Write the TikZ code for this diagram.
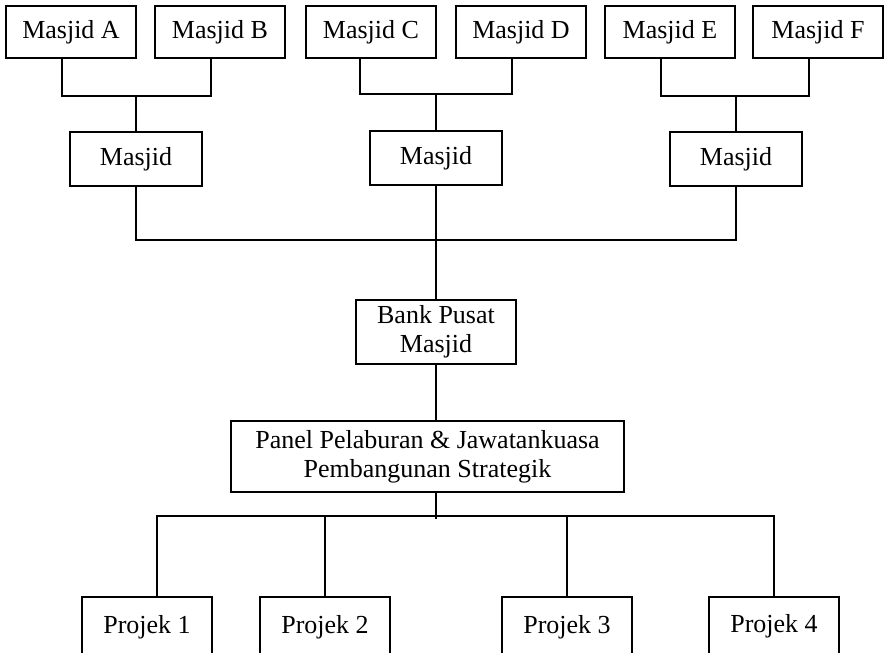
\documentclass[tikz,border=0pt]{standalone}
\usepackage{fontspec}
\setmainfont{Liberation Serif}
\usepackage{tikz}

\begin{document}
\begin{tikzpicture}[x = 0.5pt, y = -0.5pt,
            box/.style = {draw, line width = 1pt, inner sep = 0pt, align = center,
                          font = \fontsize{13}{14.5}\selectfont},
            topbox/.style = {box, minimum width = 65pt, minimum height = 26pt},
            midbox/.style = {box, minimum width = 66pt, minimum height = 27pt},
            projbox/.style = {box, minimum width = 65pt, minimum height = 30pt},
            every path/.style = {line width = 1pt}]
            \useasboundingbox (0,0) rectangle (885,653);

            % masjid kecil
            \node[topbox] (mA) at (71,32) {Masjid A};
            \node[topbox] (mB) at (220,32) {Masjid B};
            \node[topbox] (mC) at (371,32) {Masjid C};
            \node[topbox] (mD) at (521,32) {Masjid D};
            \node[topbox] (mE) at (670,32) {Masjid E};
            \node[topbox] (mF) at (818,32) {Masjid F};

            % masjid induk
            \node[midbox] (mX) at (136,159) {Masjid};
            \node[midbox] (mY) at (436,158) {Masjid};
            \node[midbox] (mZ) at (736,159) {Masjid};

            \node[box, minimum width = 80pt, minimum height = 32pt] (bank) at (436,332) {Bank Pusat\\Masjid};
            \node[box, minimum width = 196.5pt, minimum height = 35.5pt] (panel) at (427.5,456.5)
                {Panel Pelaburan \& Jawatankuasa\\Pembangunan Strategik};

            \node[projbox] (p1) at (147,627) {Projek 1};
            \node[projbox] (p2) at (325,627) {Projek 2};
            \node[projbox] (p3) at (567,627) {Projek 3};
            \node[projbox, text depth = 4pt] (p4) at (774,627) {Projek 4};

            % cabang atas
            \draw ([xshift=-4.5pt]mA.south) |- (mX.north |- 0,96) -| ([xshift=-4.5pt]mB.south);
            \draw (mX.north) -- (mX.north |- 0,96);
            \draw ([xshift=-5.5pt]mC.south) |- (mY.north |- 0,94) -| ([xshift=-4.5pt]mD.south);
            \draw (mY.north) -- (mY.north |- 0,94);
            \draw ([xshift=-4.5pt]mE.south) |- (mZ.north |- 0,96) -| ([xshift=-4.5pt]mF.south);
            \draw (mZ.north) -- (mZ.north |- 0,96);

            \draw (mX.south) |- (mZ.south |- 0,240) -- (mZ.south);
            \draw (mY.south) -- (bank.north);
            \draw (bank.south) -- (bank.south |- panel.north);

            % cabang projek
            \draw (bank.south |- panel.south) -- (bank.south |- 0,519);
            \draw ([xshift=5pt]p1.north) |- (p4.north |- 0,516) -- (p4.north);
            \draw (p2.north) -- (p2.north |- 0,516);
            \draw (p3.north) -- (p3.north |- 0,516);

\end{tikzpicture}
\end{document}
